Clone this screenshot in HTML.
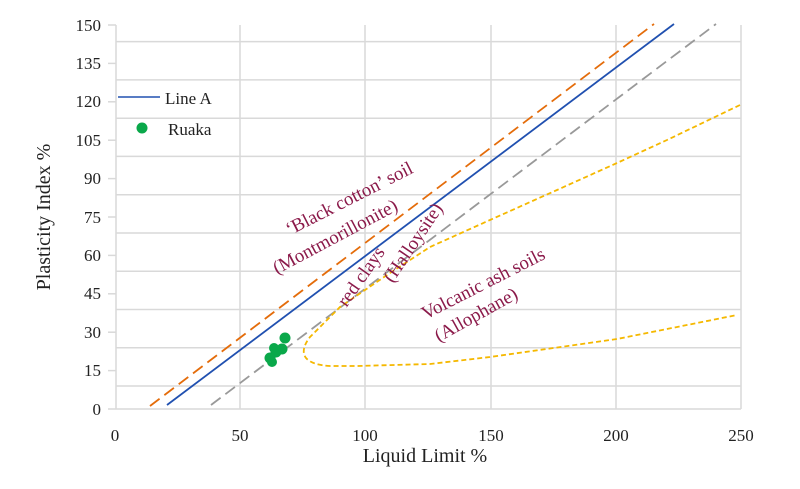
<!DOCTYPE html>
<html><head><meta charset="utf-8"><style>
body{margin:0;background:#fff}
svg{display:block}
text{font-family:"Liberation Serif",serif}
</style></head><body>
<svg width="800" height="489" viewBox="0 0 800 489">
<g stroke="#d9d9d9" stroke-width="1.5">
<line x1="116" y1="41.6" x2="741" y2="41.6"/><line x1="116" y1="79.9" x2="741" y2="79.9"/>
<line x1="116" y1="118.2" x2="741" y2="118.2"/><line x1="116" y1="156.4" x2="741" y2="156.4"/>
<line x1="116" y1="194.7" x2="741" y2="194.7"/><line x1="116" y1="233" x2="741" y2="233"/>
<line x1="116" y1="271.2" x2="741" y2="271.2"/><line x1="116" y1="309.5" x2="741" y2="309.5"/>
<line x1="116" y1="347.8" x2="741" y2="347.8"/><line x1="116" y1="386" x2="741" y2="386"/>
<line x1="240" y1="25" x2="240" y2="409"/><line x1="365" y1="25" x2="365" y2="409"/>
<line x1="491" y1="25" x2="491" y2="409"/><line x1="616" y1="25" x2="616" y2="409"/>
<line x1="741" y1="25" x2="741" y2="409"/>
<line x1="116" y1="25" x2="116" y2="409"/><line x1="108" y1="409" x2="741" y2="409"/>
<line x1="108" y1="25" x2="116" y2="25"/><line x1="108" y1="63.4" x2="116" y2="63.4"/>
<line x1="108" y1="101.8" x2="116" y2="101.8"/><line x1="108" y1="140.2" x2="116" y2="140.2"/>
<line x1="108" y1="178.6" x2="116" y2="178.6"/><line x1="108" y1="217" x2="116" y2="217"/>
<line x1="108" y1="255.4" x2="116" y2="255.4"/><line x1="108" y1="293.8" x2="116" y2="293.8"/>
<line x1="108" y1="332.2" x2="116" y2="332.2"/><line x1="108" y1="370.6" x2="116" y2="370.6"/>
</g>
<g font-size="17" fill="#222" text-anchor="end">
<text x="101" y="31">150</text><text x="101" y="69">135</text><text x="101" y="107">120</text>
<text x="101" y="146">105</text><text x="101" y="184">90</text><text x="101" y="223">75</text>
<text x="101" y="261">60</text><text x="101" y="299">45</text><text x="101" y="338">30</text>
<text x="101" y="376">15</text><text x="101" y="415">0</text>
</g>
<g font-size="17" fill="#222" text-anchor="middle">
<text x="115" y="441">0</text><text x="240" y="441">50</text><text x="365" y="441">100</text>
<text x="491" y="441">150</text><text x="616" y="441">200</text><text x="741" y="441">250</text>
</g>
<text x="425" y="462" font-size="20" text-anchor="middle" fill="#222">Liquid Limit %</text>
<text transform="translate(50,217) rotate(-90)" font-size="20" text-anchor="middle" fill="#222">Plasticity Index %</text>
<line x1="150" y1="406" x2="654" y2="24" stroke="#e46c0a" stroke-width="1.8" stroke-dasharray="12,6"/>
<line x1="167" y1="405" x2="674" y2="24" stroke="#2050b0" stroke-width="1.8"/>
<line x1="211" y1="405" x2="716" y2="24" stroke="#999" stroke-width="1.8" stroke-dasharray="12,6"/>
<path d="M740,105 L667,140 L617,163 L557,190 L490,220 L430,247 L390,273 L340,307 L310,337 Q300,350 306,358 Q312,365 330,366 L357,366 L430,364 L490,357 L617,339 L737,315" fill="none" stroke="#f5b800" stroke-width="1.8" stroke-dasharray="5,3"/>
<g fill="#0aa84a">
<circle cx="285" cy="338" r="5.5"/><circle cx="282" cy="349" r="5.5"/><circle cx="276" cy="352" r="5.5"/>
<circle cx="274" cy="348" r="5"/><circle cx="270" cy="358" r="5.5"/><circle cx="272" cy="362" r="5"/>
</g>
<line x1="118" y1="97" x2="160" y2="97" stroke="#2050b0" stroke-width="1.5"/>
<text x="165" y="104" font-size="17" fill="#222">Line A</text>
<circle cx="142" cy="128" r="5.5" fill="#0aa84a"/>
<text x="168" y="135" font-size="17" fill="#222">Ruaka</text>
<g font-size="19" fill="#8b1a4a" text-anchor="middle">
<text transform="translate(352,204) rotate(-27)">‘Black cotton’ soil</text>
<text transform="translate(338,242) rotate(-28)">(Montmorillonite)</text>
<text transform="translate(366,280) rotate(-55)">red clays</text>
<text transform="translate(418,246) rotate(-56)">(Halloysite)</text>
<text transform="translate(486,289) rotate(-27)">Volcanic ash soils</text>
<text transform="translate(479,320) rotate(-29)">(Allophane)</text>
</g>
</svg>
</body></html>
